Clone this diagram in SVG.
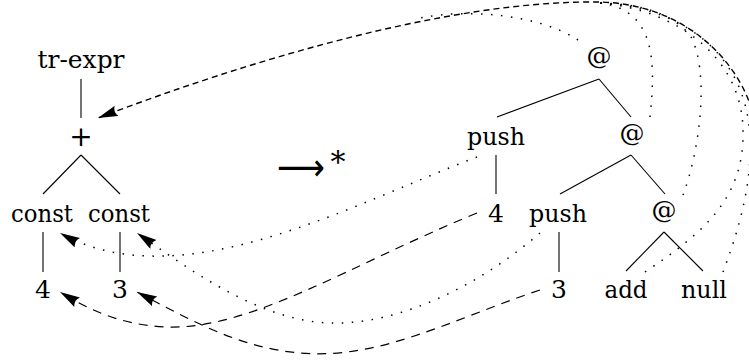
<svg xmlns="http://www.w3.org/2000/svg" width="749" height="364" viewBox="0 0 749 364">
  <style>
    .lbl { font-family: "DejaVu Serif", serif; font-size: 25px; fill: #000; text-anchor: middle; }
    .at { font-size: 25px; }
    .edge { stroke: #000; stroke-width: 1.1; fill: none; }
    .dot { stroke: #000; stroke-width: 1.5; fill: none; stroke-dasharray: 1.5 8.5; }
    .dash { stroke: #000; stroke-width: 1.2; fill: none; stroke-dasharray: 9 7; }
    .dash-s { stroke: #000; stroke-width: 1.4; fill: none; stroke-dasharray: 6 4; }
  </style>
  <defs>
    <marker id="head" markerUnits="userSpaceOnUse" markerWidth="24" markerHeight="12" refX="20" refY="5.5" orient="auto">
      <path d="M20,5.5 L0,0 Q4,5.5 0,11 Z" fill="#000"/>
    </marker>
  </defs>

  <rect width="749" height="364" fill="#fff"/>

  <!-- source tree: tr-expr(+(const 4, const 3)) -->
  <g id="tree-left">
    <g id="n-trexpr"><text class="lbl" x="81" y="68" textLength="87" lengthAdjust="spacingAndGlyphs">tr-expr</text></g>
    <g id="n-plus"><text class="lbl" x="81" y="146" style="font-size:28px">+</text></g>
    <g id="n-const1"><text class="lbl" x="42" y="222" textLength="62" lengthAdjust="spacingAndGlyphs">const</text></g>
    <g id="n-const2"><text class="lbl" x="119" y="222" textLength="62" lengthAdjust="spacingAndGlyphs">const</text></g>
    <g id="n-4a"><text class="lbl" x="43" y="298">4</text></g>
    <g id="n-3a"><text class="lbl" x="120" y="298">3</text></g>
    <g id="edges-left">
      <line class="edge" x1="81" y1="79" x2="81" y2="118"/>
      <line class="edge" x1="81" y1="155" x2="43" y2="194"/>
      <line class="edge" x1="81" y1="155" x2="120" y2="194"/>
      <line class="edge" x1="43" y1="232" x2="43" y2="272"/>
      <line class="edge" x1="120" y1="232" x2="120" y2="272"/>
    </g>
  </g>

  <!-- reduction arrow -->
  <g id="reduces">
    <text class="lbl" x="301" y="180" style="font-family:'DejaVu Sans',sans-serif;font-size:38px" textLength="48" lengthAdjust="spacingAndGlyphs">⟶</text>
    <text class="lbl" x="338" y="172" style="font-size:30px">*</text>
  </g>

  <!-- target tree: @(push 4, @(push 3, @(add, null))) -->
  <g id="tree-right">
    <g id="n-app1"><text class="lbl at" x="599" y="64">@</text></g>
    <g id="n-push1"><text class="lbl" x="496" y="145" textLength="58" lengthAdjust="spacingAndGlyphs">push</text></g>
    <g id="n-app2"><text class="lbl at" x="632" y="141">@</text></g>
    <g id="n-4b"><text class="lbl" x="496" y="222">4</text></g>
    <g id="n-push2"><text class="lbl" x="558" y="222" textLength="58" lengthAdjust="spacingAndGlyphs">push</text></g>
    <g id="n-app3"><text class="lbl at" x="664" y="218">@</text></g>
    <g id="n-3b"><text class="lbl" x="559" y="298">3</text></g>
    <g id="n-add"><text class="lbl" x="626" y="298" textLength="43" lengthAdjust="spacingAndGlyphs">add</text></g>
    <g id="n-null"><text class="lbl" x="704" y="298" textLength="46" lengthAdjust="spacingAndGlyphs">null</text></g>
    <g id="edges-right">
      <line class="edge" x1="599" y1="79" x2="497" y2="117"/>
      <line class="edge" x1="599" y1="79" x2="631" y2="117"/>
      <line class="edge" x1="496" y1="155" x2="496" y2="194"/>
      <line class="edge" x1="631" y1="155" x2="560" y2="194"/>
      <line class="edge" x1="631" y1="155" x2="665" y2="194"/>
      <line class="edge" x1="559" y1="232" x2="559" y2="272"/>
      <line class="edge" x1="664" y1="232" x2="626" y2="271"/>
      <line class="edge" x1="664" y1="232" x2="703" y2="271"/>
    </g>
  </g>

  <!-- correspondence links between the two trees -->
  <g id="connectors">
    <!-- applications, add and null all lead back to + -->
    <path class="dash-s" d="M752,110 C735,55 680,4 600,2 C450,0 250,60 98,118" marker-end="url(#head)"/>
    <path class="dot" d="M578,40 C540,15 470,8 420,18"/>
    <path class="dot" d="M650,117 C656,60 655,10 600,3"/>
    <path class="dot" d="M683,195 C700,150 710,70 690,35 C670,12 640,4 600,3"/>
    <path class="dot" d="M645,272 C700,235 745,200 743,130 C742,60 680,10 600,3"/>
    <path class="dot" d="M723,272 C735,240 752,190 750,140 C748,60 690,8 600,3"/>
    <!-- push nodes back to const nodes -->
    <path class="dot" d="M477,157 C350,205 180,300 60,233" marker-end="url(#head)"/>
    <path class="dot" d="M540,233 C480,285 400,325 330,323 C260,321 190,270 137,233" marker-end="url(#head)"/>
    <!-- literals back to literals -->
    <path class="dash" d="M477,213 C350,265 250,330 167,327 C120,325 90,310 60,292" marker-end="url(#head)"/>
    <path class="dash" d="M540,290 C450,320 380,360 300,353 C240,348 190,320 137,292" marker-end="url(#head)"/>
  </g>
</svg>
